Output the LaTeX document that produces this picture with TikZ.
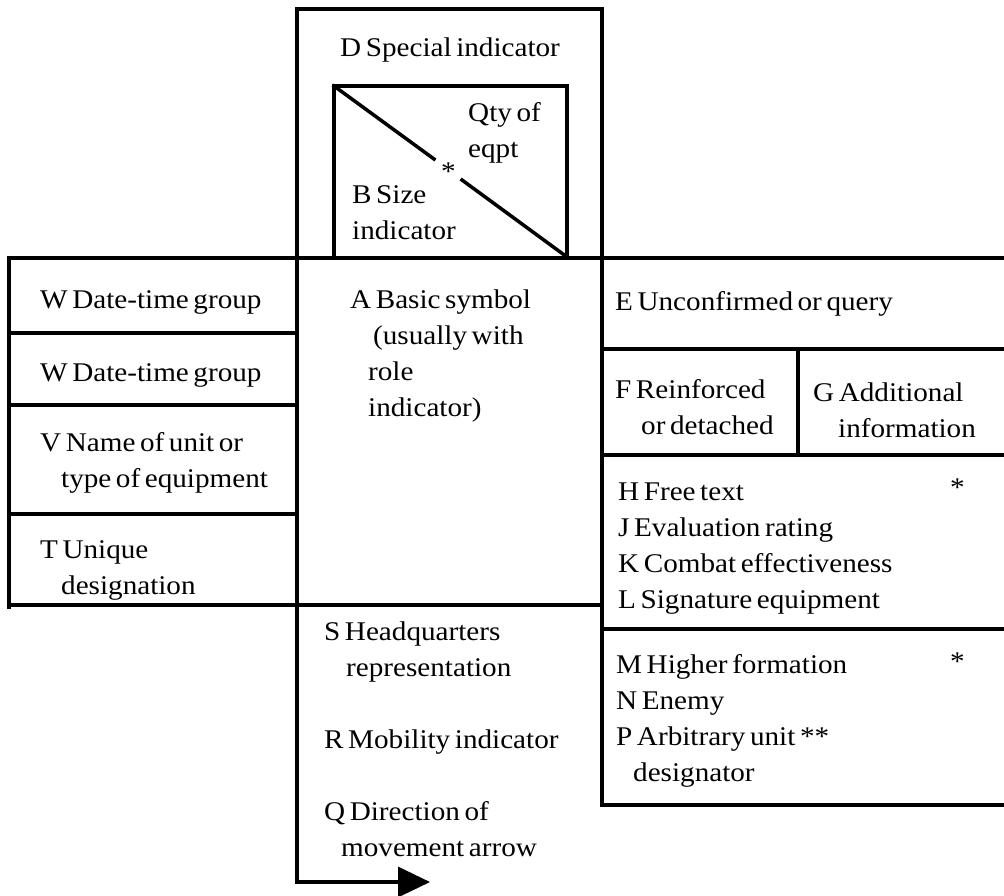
\documentclass[tikz,border=0pt]{standalone}
\usepackage{fontspec}
\setmainfont{Liberation Serif}[FakeStretch=1.08]
\usetikzlibrary{arrows.meta}

\newcommand{\lblfont}{\fontsize{27}{36}\selectfont\spaceskip=0.17em\relax}

\tikzset{
  frame/.style={line width=3.5pt, line cap=rect, line join=miter},
  lbl/.style={anchor=base west, inner sep=0pt, align=left, font=\lblfont},
}

\begin{document}
\begin{tikzpicture}[x=1pt, y=-1pt]
\useasboundingbox (0,0) rectangle (1004,895);

% top box and size box
\draw[frame] (297,258) -- (297,9) -- (602,9) -- (602,258);
\draw[frame] (334,258) -- (334,86) -- (567,86) -- (567,258);
\draw[frame] (334,86) -- (434,159);
\draw[frame] (462,180) -- (567,257);

% main lines
\draw[frame] (9,258) -- (1004,258);
\draw[frame] (9,605) -- (602,605);
\draw[frame] (9,258) -- (9,607);
\draw[frame] (602,258) -- (602,805);

% left column
\foreach \yy in {333,405,514}
  \draw[frame] (9,\yy) -- (297,\yy);

% right column
\draw[frame] (602,349) -- (1004,349);
\draw[frame] (602,455) -- (1004,455);
\draw[frame] (798,349) -- (798,455);
\draw[frame] (602,629) -- (1004,629);
\draw[frame] (602,805) -- (1004,805);

% direction of movement arrow
\draw[frame, -{Triangle[length=32pt, width=30pt]}] (297,258) -- (297,882) -- (430,882);

% labels (multi-line ones sit on their last baseline)
\node[lbl] (dspec) at (340,56) {D Special indicator};
\node[lbl] (qty) at (468,157) {Qty of\\eqpt};
\node[lbl] (star1) at (441,180) {*};
\node[lbl] (bsize) at (352,239) {B Size\\indicator};

\node[lbl] (w1) at (40,308) {W Date-time group};
\node[lbl] (w2) at (40,381) {W Date-time group};
\node[lbl] (vname) at (40,487) {V Name of unit or\\\hspace*{21pt}type of equipment};
\node[lbl] (tuniq) at (40,594) {T Unique\\\hspace*{21pt}designation};

\node[lbl] (abasic) at (350,416) {A Basic symbol\\\hspace*{23pt}(usually with\\\hspace*{18pt}role\\\hspace*{18pt}indicator)};

\node[lbl] (eunc) at (615,310) {E Unconfirmed or query};
\node[lbl] (freinf) at (615,434) {F Reinforced\\\hspace*{26pt}or detached};
\node[lbl] (gadd) at (813,437) {G Additional\\\hspace*{25pt}information};
\node[lbl] (hfree) at (618,608) {H Free text\\J Evaluation rating\\K Combat effectiveness\\L Signature equipment};
\node[lbl] (star2) at (950,496) {*};

\node[lbl] (shq) at (324,676) {S Headquarters\\\hspace*{22pt}representation};
\node[lbl] (rmob) at (324,748) {R Mobility indicator};
\node[lbl] (qdir) at (324,856) {Q Direction of\\\hspace*{17pt}movement arrow};

\node[lbl] (mhigh) at (616,781) {M Higher formation\\N Enemy\\P Arbitrary unit **\\\hspace*{17pt}designator};
\node[lbl] (star3) at (950,670) {*};

\end{tikzpicture}
\end{document}
